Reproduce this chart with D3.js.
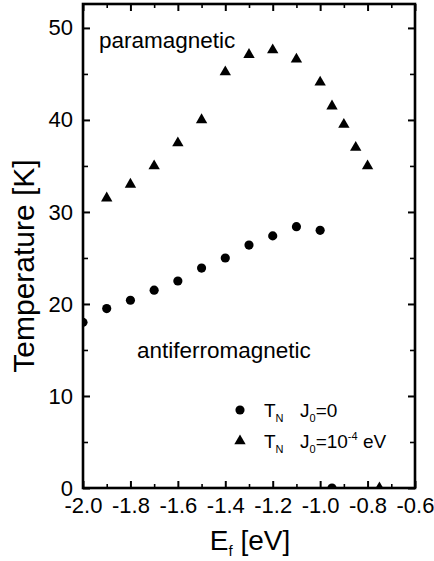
<!DOCTYPE html>
<html>
<head>
<meta charset="utf-8">
<script src="https://cdn.jsdelivr.net/npm/d3@7"></script>
<style>
  html, body { margin: 0; padding: 0; background: #fff; }
  svg { display: block; font-family: "Liberation Sans", Arial, Helvetica, sans-serif; }
</style>
</head>
<body>
<svg id="chart" width="434" height="561"></svg>
<script>
// ---- data ----
const efCircle = [-2.0, -1.9, -1.8, -1.7, -1.6, -1.5, -1.4, -1.3, -1.2, -1.1, -1.0, -0.95];
const tnCircle = [18.0, 19.5, 20.4, 21.5, 22.5, 23.9, 25.0, 26.4, 27.4, 28.4, 28.0, 0];
const efTri = [-1.9, -1.8, -1.7, -1.6, -1.5, -1.4, -1.3, -1.2, -1.1, -1.0, -0.95, -0.9, -0.85, -0.8, -0.75];
const tnTri = [31.5, 33.0, 35.0, 37.5, 40.0, 45.2, 47.1, 47.6, 46.6, 44.1, 41.5, 39.5, 37.0, 35.0, 0];
const xTicks = [-2.0, -1.8, -1.6, -1.4, -1.2, -1.0, -0.8, -0.6];
const xMinor = [-1.9, -1.7, -1.5, -1.3, -1.1, -0.9, -0.7];
const yTicks = [0, 10, 20, 30, 40, 50];
const yMinor = [5, 15, 25, 35, 45];
const xDomain = [-2.0, -0.6];
const yDomain = [0, 52.6];

// ---- layout ----
const L = 83, R = 415, T = 4, B = 488;
const svg = d3.select("#chart");
const x = d3.scaleLinear().domain(xDomain).range([L, R]);
const y = d3.scaleLinear().domain(yDomain).range([B, T]);

svg.append("defs").append("clipPath").attr("id", "plotclip")
  .append("rect").attr("x", L).attr("y", T).attr("width", R - L).attr("height", B - T);

function styleAxis(g, w) {
  g.select(".domain").remove();
  g.selectAll(".tick line").attr("stroke", "#000").attr("stroke-width", w);
  g.selectAll(".tick text").attr("fill", "#000").attr("font-size", 22)
    .attr("font-family", "Liberation Sans, Arial, Helvetica, sans-serif");
}

// bottom
svg.append("g").attr("transform", `translate(0,${B})`)
  .call(d3.axisBottom(x).tickValues(xTicks).tickSize(-7).tickPadding(9).tickFormat(d => d.toFixed(1)))
  .call(g => styleAxis(g, 2));
svg.append("g").attr("transform", `translate(0,${B})`)
  .call(d3.axisBottom(x).tickValues(xMinor).tickSize(-4).tickFormat(""))
  .call(g => styleAxis(g, 1.6));
// top
svg.append("g").attr("transform", `translate(0,${T})`)
  .call(d3.axisTop(x).tickValues(xTicks).tickSize(-7).tickFormat(""))
  .call(g => styleAxis(g, 2));
svg.append("g").attr("transform", `translate(0,${T})`)
  .call(d3.axisTop(x).tickValues(xMinor).tickSize(-4).tickFormat(""))
  .call(g => styleAxis(g, 1.6));
// left
svg.append("g").attr("transform", `translate(${L},0)`)
  .call(d3.axisLeft(y).tickValues(yTicks).tickSize(-7).tickPadding(10).tickFormat(d3.format("d")))
  .call(g => styleAxis(g, 2));
svg.append("g").attr("transform", `translate(${L},0)`)
  .call(d3.axisLeft(y).tickValues(yMinor).tickSize(-5).tickFormat(""))
  .call(g => styleAxis(g, 1.6));
// right
svg.append("g").attr("transform", `translate(${R},0)`)
  .call(d3.axisRight(y).tickValues(yTicks).tickSize(-7).tickFormat(""))
  .call(g => styleAxis(g, 2));
svg.append("g").attr("transform", `translate(${R},0)`)
  .call(d3.axisRight(y).tickValues(yMinor).tickSize(-5).tickFormat(""))
  .call(g => styleAxis(g, 1.6));

// frame
svg.append("rect").attr("x", L).attr("y", T).attr("width", R - L).attr("height", B - T)
  .attr("fill", "none").attr("stroke", "#000").attr("stroke-width", 2.6);

// markers
const circSym = d3.symbol().type(d3.symbolCircle).size(66);
const triSym = d3.symbol().type(d3.symbolTriangle).size(56);
const marks = svg.append("g").attr("clip-path", "url(#plotclip)");
marks.selectAll("path.c").data(efCircle.map((e, i) => [e, tnCircle[i]])).join("path")
  .attr("class", "c").attr("d", circSym)
  .attr("transform", d => `translate(${x(d[0])},${y(d[1])})`).attr("fill", "#000");
marks.selectAll("path.t").data(efTri.map((e, i) => [e, tnTri[i]])).join("path")
  .attr("class", "t").attr("d", triSym)
  .attr("transform", d => `translate(${x(d[0])},${y(d[1])})`).attr("fill", "#000");

// region labels
svg.append("text").attr("x", 99).attr("y", 48).attr("font-size", 22.5).text("paramagnetic");
svg.append("text").attr("x", 137).attr("y", 358).attr("font-size", 22.5).text("antiferromagnetic");

// legend
const lg = svg.append("g").attr("font-size", 19);
lg.append("path").attr("d", circSym).attr("transform", "translate(240,410)");
lg.append("path").attr("d", triSym).attr("transform", "translate(240,441)");
function tn(yb) {
  const t = lg.append("text").attr("x", 264).attr("y", yb);
  t.append("tspan").text("T");
  t.append("tspan").attr("font-size", 11).attr("dy", 5).text("N");
}
tn(417); tn(448);
const j1 = lg.append("text").attr("x", 300).attr("y", 417);
j1.append("tspan").text("J");
j1.append("tspan").attr("font-size", 11).attr("dy", 5).text("0");
j1.append("tspan").attr("dy", -5).text("=0");
const j2 = lg.append("text").attr("x", 300).attr("y", 448);
j2.append("tspan").text("J");
j2.append("tspan").attr("font-size", 11).attr("dy", 5).text("0");
j2.append("tspan").attr("dy", -5).text("=10");
j2.append("tspan").attr("font-size", 11).attr("dy", -8).text("-4");
j2.append("tspan").attr("dy", 8).text(" eV");

// axis titles
svg.append("text").attr("transform", "translate(34,266) rotate(-90)")
  .attr("text-anchor", "middle").attr("font-size", 30).text("Temperature [K]");
const xt = svg.append("text").attr("x", 250).attr("y", 550).attr("text-anchor", "middle").attr("font-size", 28);
xt.append("tspan").text("E");
xt.append("tspan").attr("font-size", 15).attr("dy", 6).text("f");
xt.append("tspan").attr("dy", -6).text(" [eV]");
</script>
</body>
</html>
